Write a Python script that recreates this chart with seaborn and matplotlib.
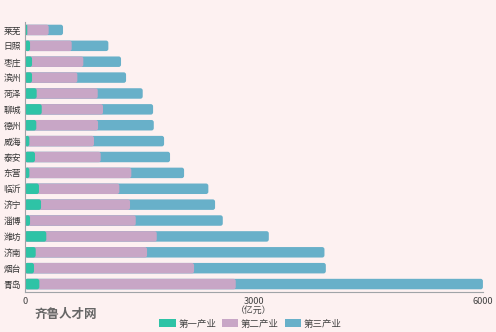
import numpy as np
import pandas as pd
import seaborn as sns
import matplotlib.pyplot as plt
from matplotlib.patches import FancyBboxPatch, Patch

cities = ["莱芜", "日照", "枣庄", "滨州", "菏泽", "聊城", "德州", "威海", "泰安",
          "东营", "临沂", "济宁", "淄博", "潍坊", "济南", "烟台", "青岛"]
primary = [30, 66, 92, 92, 153, 219, 148, 57, 131, 57, 183, 210, 66, 279, 140, 118, 188]
secondary = [280, 546, 672, 594, 800, 803, 809, 847, 861, 1336, 1053, 1166, 1385, 1447, 1459, 2097, 2573]
tertiary = [188, 480, 494, 638, 589, 656, 730, 918, 908, 691, 1166, 1114, 1140, 1468, 2324, 1726, 3238]
series_names = ["第一产业", "第二产业", "第三产业"]
x_ticks = [0, 3000, 6000]
unit_label = "（亿元）"

colors = ["#2ec3a6", "#c8a6c6", "#68b0c9"]
bg = "#fdf1f1"

sns.set_theme(style="white")
plt.rcParams['font.family'] = ['Noto Sans CJK SC', 'DejaVu Sans']

fig = plt.figure(figsize=(4.96, 3.32), dpi=100, facecolor=bg)
ax = fig.add_axes([25 / 496, 40 / 332, 458 / 496, 270 / 332])
ax.set_facecolor(bg)

c1 = np.array(primary, dtype=float)
c2 = c1 + np.array(secondary)
c3 = c2 + np.array(tertiary)
df = pd.DataFrame({"city": cities, "s1": c1, "s2": c2, "s3": c3})

for col, color in zip(["s3", "s2", "s1"], colors[::-1]):
    sns.barplot(data=df, y="city", x=col, orient="h", color=color, width=0.66,
                saturation=1, errorbar=None, ax=ax, linewidth=0)

ax.set_xlim(0, 6000)
ax.set_ylim(16.5, -0.5)

# round the bar corners
px_x = 6000 / 458.0
px_y = 17 / 270.0
r_px = 2.3
aspect = (r_px * px_y) / (r_px * px_x)
patches = list(ax.patches)
for p in patches:
    x, y, w, h = p.get_x(), p.get_y(), p.get_width(), p.get_height()
    if w < 0:
        x, w = x + w, -w
    if h < 0:
        y, h = y + h, -h
    fc = p.get_facecolor()
    p.remove()
    r = min(r_px * px_x, w / 2.0)
    fb = FancyBboxPatch((x, y), w, h, boxstyle=f"round,pad=0,rounding_size={r}",
                        mutation_aspect=aspect, facecolor=fc, edgecolor="none", linewidth=0)
    ax.add_patch(fb)

for s in ["top", "right"]:
    ax.spines[s].set_visible(False)
for s in ["left", "bottom"]:
    ax.spines[s].set_color("#a0a4a8")
    ax.spines[s].set_linewidth(0.8)

ax.set_xticks(x_ticks)
ax.set_xticklabels([str(t) for t in x_ticks], fontsize=6.6, color="#444444")
ax.tick_params(axis="x", length=3, width=0.7, color="#a0a4a8", direction="out", pad=0.5)
ax.tick_params(axis="y", which="major", length=0, labelsize=6.3, labelcolor="#333333", pad=3)
ax.set_yticks(np.arange(-0.5, 17, 1), minor=True)
ax.tick_params(axis="y", which="minor", length=2.5, width=0.6, color="#a0a4a8", direction="out")
ax.set_ylabel("")
ax.set_xlabel(unit_label, fontsize=6.4, color="#444444", labelpad=0)

handles = [Patch(facecolor=c, edgecolor="none") for c in colors]
fig.legend(handles, series_names, loc="center", bbox_to_anchor=(0.505, 0.024), ncol=3,
           frameon=False, fontsize=6.8, handlelength=1.7, handleheight=0.9,
           columnspacing=0.6, handletextpad=0.3, labelcolor="#444444")

fig.text(35 / 496, 1 - 314 / 332, "齐鲁人才网", fontsize=9, fontweight="bold",
         color="#666666", va="center", ha="left")

fig.savefig("out.png", dpi=100, facecolor=bg)
